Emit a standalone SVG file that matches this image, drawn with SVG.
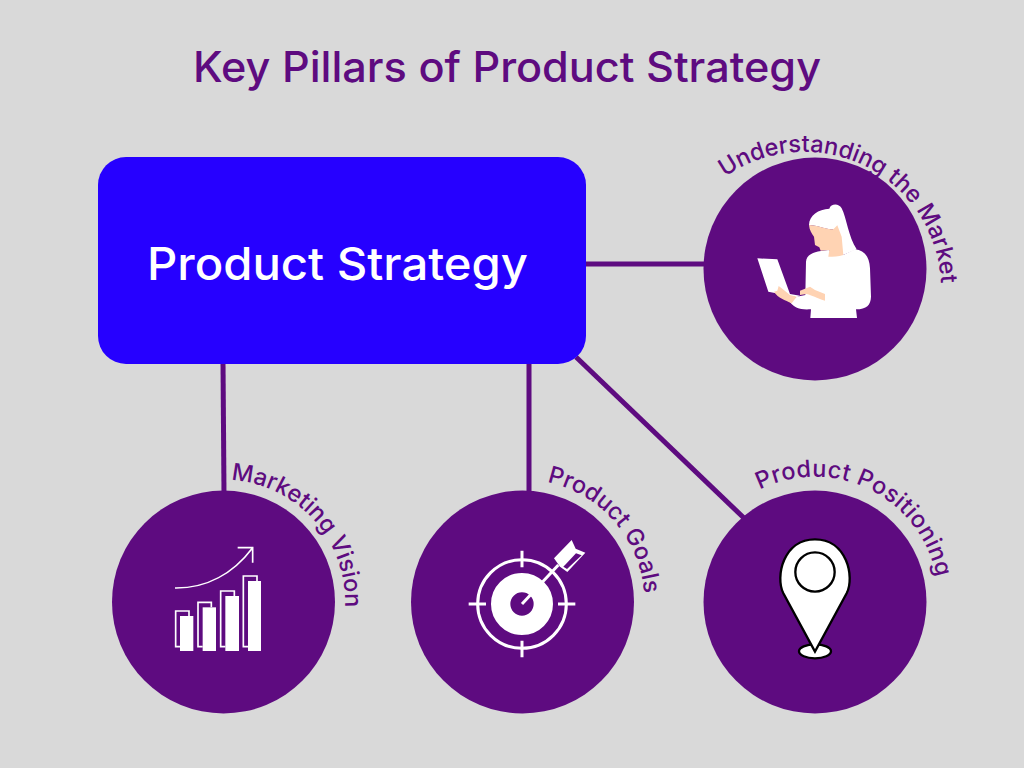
<svg xmlns="http://www.w3.org/2000/svg" width="1024" height="768" viewBox="0 0 1024 768">
<style>
text{font-family:"Inter","Open Sans","Liberation Sans",sans-serif;font-weight:500}
.lab{font-size:23.5px;fill:#5e0b80}
.c{fill:#5e0b80}
.w{fill:#fff}
.l{stroke:#5e0b80;stroke-width:5;fill:none}
.o{fill:none;stroke:#fff;stroke-width:5}
.k{fill:#fff;stroke:#000;stroke-width:7}
.s{fill:#ffd3b3}
</style>
<defs>
<path id="p1" d="M725,177 A137,137 0 0 1 941,287 A137,137 0 0 1 925,350" fill="none"/>
<path id="p2" d="M231,480 A122,122 0 0 1 345,607 A122,122 0 0 1 330,665" fill="none"/>
<path id="p3" d="M547,482 A123,123 0 0 1 644,592 A123,123 0 0 1 630,660" fill="none"/>
<path id="p4" d="M757,491 A124,124 0 0 1 937,580 A124,124 0 0 1 925,660" fill="none"/>
</defs>
<rect width="1024" height="768" fill="#d9d9d9"/>
<text id="title" x="193" y="82" font-size="42" fill="#5e0b80" textLength="628" lengthAdjust="spacingAndGlyphs">Key Pillars of Product Strategy</text>
<g id="connectors">
<line class="l" x1="584" y1="264" x2="706" y2="264"/>
<line class="l" x1="223" y1="362" x2="224" y2="494"/>
<line class="l" x1="529" y1="362" x2="529" y2="494"/>
<line class="l" x1="576" y1="357" x2="745" y2="519"/>
</g>
<g id="product-strategy">
<rect x="98" y="157" width="488" height="207" rx="28" fill="#2600ff"/>
<text x="147" y="280" font-size="45" fill="#fff" textLength="381" lengthAdjust="spacingAndGlyphs">Product Strategy</text>
</g>
<g id="understanding-the-market">
<circle class="c" cx="815" cy="269" r="111.5"/>
<text class="lab"><textPath href="#p1">Understanding the Market</textPath></text>
<g transform="translate(700,140) scale(.33333)">
<path class="w" d="M172,355L232,358L270,462L300,467L290,472L205,455Z"/>
<path class="w" d="M318,365C320,345 335,335 385,330L430,345L465,328C495,332 508,350 510,385L513,470C512,495 500,508 468,508L471,534L331,534L333,508C300,510 285,505 270,487L290,470L316,465Z"/>
<path class="w" d="M327,255C328,225 355,208 388,206C392,192 415,188 425,205C440,235 445,290 470,328L430,345L400,300L400,268C375,268 350,255 327,255Z"/>
<path class="s" d="M327,255C350,255 380,268 400,268L412,256L425,290L430,345C415,350 400,350 385,350L388,330L362,332L358,322L345,315L342,290C335,280 328,270 327,255Z"/>
<path class="s" d="M222,455L232,452L236,438L245,445L270,465L290,470L275,490C255,480 235,475 222,455Z"/>
<path class="s" d="M300,452L330,440L345,450L375,462L375,482C350,475 335,465 320,462L300,465Z"/>
</g>
</g>
<g id="marketing-vision">
<circle class="c" cx="223.5" cy="602" r="111.5"/>
<text class="lab"><textPath href="#p2">Marketing Vision</textPath></text>
<g transform="translate(110,450) scale(.33333)">
<path class="o" d="M237,498V483H197V590H210M304,472V457H264V590H278M373,438V423H332V590H346M441,393V378H400V590H414"/>
<rect class="w" x="210" y="498" width="40" height="105"/>
<rect class="w" x="278" y="472" width="40" height="131"/>
<rect class="w" x="346" y="438" width="41" height="165"/>
<rect class="w" x="414" y="393" width="39" height="210"/>
<path class="o" d="M195,414C290,415 370,370 428,293M383,293H428V338"/>
</g>
</g>
<g id="product-goals">
<circle class="c" cx="522.5" cy="602" r="111.5"/>
<text class="lab"><textPath href="#p3">Product Goals</textPath></text>
<g transform="translate(410,450) scale(.33333)" fill="none" stroke="#fff">
<circle cx="336" cy="462" r="133" stroke-width="9"/>
<circle cx="336" cy="462" r="64" stroke-width="58"/>
<path stroke-width="9" d="M336,302V352M336,572V622M176,462H228M444,462H496"/>
<path stroke-width="9" d="M336,462L445,345"/>
<path class="w" stroke="none" d="M432,325L485,270L497,296L526,308L472,366L450,350Z"/>
<path class="c" stroke="none" d="M498,310L515,316L471,357L460,350Z"/>
</g>
</g>
<g id="product-positioning">
<circle class="c" cx="815" cy="602" r="111.5"/>
<text class="lab" letter-spacing=".5"><textPath href="#p4" startOffset="3">Product Positioning</textPath></text>
<g transform="translate(700,450) scale(.33333)">
<ellipse class="k" cx="345" cy="604" rx="48" ry="21"/>
<path class="k" d="M345,605L250,430C225,380 250,268 345,268C440,268 465,380 440,430Z"/>
<circle class="k" cx="345" cy="366" r="59"/>
</g>
</g>
</svg>
